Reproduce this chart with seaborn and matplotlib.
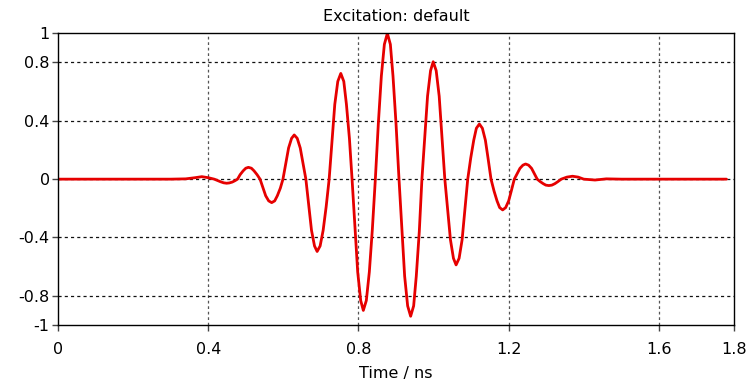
import matplotlib
matplotlib.use("Agg")
import matplotlib.pyplot as plt
import seaborn as sns
import pandas as pd

# Waveform samples (time in ns, amplitude)
time_ns = [0.000, 0.300, 0.340, 0.365, 0.383, 0.400, 0.416, 0.433, 0.441,
           0.449, 0.456, 0.464, 0.471, 0.478, 0.485, 0.493, 0.500,
           0.507, 0.515, 0.522, 0.530, 0.538, 0.546, 0.553, 0.561,
           0.569, 0.577, 0.584, 0.592, 0.599, 0.607, 0.614, 0.622,
           0.629, 0.637, 0.645, 0.652, 0.660, 0.668, 0.675, 0.683,
           0.690, 0.698, 0.706, 0.714, 0.722, 0.730, 0.737, 0.745,
           0.753, 0.761, 0.768, 0.776, 0.783, 0.791, 0.798, 0.806,
           0.813, 0.821, 0.829, 0.837, 0.845, 0.853, 0.861, 0.869,
           0.877, 0.885, 0.892, 0.900, 0.908, 0.916, 0.923, 0.931,
           0.939, 0.947, 0.954, 0.962, 0.969, 0.977, 0.984, 0.992,
           0.999, 1.007, 1.015, 1.022, 1.030, 1.038, 1.045, 1.053,
           1.060, 1.068, 1.076, 1.083, 1.091, 1.099, 1.107, 1.114,
           1.122, 1.130, 1.138, 1.145, 1.153, 1.161, 1.169, 1.176,
           1.184, 1.192, 1.200, 1.207, 1.215, 1.223, 1.230, 1.238,
           1.245, 1.253, 1.261, 1.268, 1.276, 1.284, 1.292, 1.299,
           1.307, 1.315, 1.323, 1.331, 1.340, 1.355, 1.370, 1.385,
           1.400, 1.430, 1.460, 1.500, 1.780]
amplitude = [0.000, 0.000, 0.002, 0.010, 0.017, 0.010, 0.000, -0.018, -0.025,
             -0.028, -0.026, -0.020, -0.011, 0.000, 0.031, 0.057, 0.075,
             0.081, 0.075, 0.057, 0.031, 0.000, -0.062, -0.114, -0.149,
             -0.161, -0.149, -0.114, -0.062, 0.000, 0.116, 0.214, 0.280,
             0.303, 0.280, 0.214, 0.116, 0.000, -0.190, -0.351, -0.458,
             -0.496, -0.458, -0.351, -0.190, 0.000, 0.278, 0.513, 0.670,
             0.725, 0.670, 0.513, 0.278, 0.000, -0.345, -0.636, -0.832,
             -0.900, -0.832, -0.636, -0.345, 0.000, 0.383, 0.707, 0.924,
             1.000, 0.924, 0.707, 0.383, 0.000, -0.360, -0.665, -0.869,
             -0.940, -0.869, -0.665, -0.360, 0.000, 0.308, 0.569, 0.744,
             0.805, 0.744, 0.569, 0.308, 0.000, -0.225, -0.416, -0.543,
             -0.588, -0.543, -0.416, -0.225, 0.000, 0.145, 0.267, 0.349,
             0.378, 0.349, 0.267, 0.145, 0.000, -0.081, -0.149, -0.195,
             -0.211, -0.195, -0.149, -0.081, 0.000, 0.040, 0.074, 0.096,
             0.104, 0.096, 0.074, 0.040, 0.000, -0.017, -0.031, -0.041,
             -0.044, -0.041, -0.031, -0.017, 0.000, 0.014, 0.020, 0.014,
             0.000, -0.006, 0.002, 0.000, 0.000]

x_ticks = [0, 0.4, 0.8, 1.2, 1.6, 1.8]
x_tick_labels = ["0", "0.4", "0.8", "1.2", "1.6", "1.8"]
y_ticks = [-1, -0.8, -0.4, 0, 0.4, 0.8, 1]
y_tick_labels = ["-1", "-0.8", "-0.4", "0", "0.4", "0.8", "1"]
title = "Excitation: default"
x_label = "Time / ns"

df = pd.DataFrame({"t": time_ns, "v": amplitude})

sns.set_theme(style="white")
plt.rcParams["font.family"] = ["DejaVu Sans"]

fig = plt.figure(figsize=(7.48, 3.92), dpi=100)
ax = fig.add_axes([58 / 748, 1 - 325 / 392, (734 - 58) / 748, (325 - 33.3) / 392])

sns.lineplot(data=df, x="t", y="v", ax=ax, color="#e60000", linewidth=2.0, sort=False)

ax.set_xlim(0, 1.8)
ax.set_ylim(-1, 1)
ax.set_xticks(x_ticks)
ax.set_xticklabels(x_tick_labels)
ax.set_yticks(y_ticks)
ax.set_yticklabels(y_tick_labels)

for gx in [0.4, 0.8, 1.2, 1.6]:
    ax.axvline(gx, color="#555555", linewidth=0.9, linestyle=(0, (2.2, 2.2)), zorder=0)
for gy in [-0.8, -0.4, 0, 0.4, 0.8]:
    ax.axhline(gy, color="#111111", linewidth=0.9, linestyle=(0, (2.5, 2.5)), zorder=0)

for s in ax.spines.values():
    s.set_visible(True)
    s.set_color("black")
    s.set_linewidth(1.0)

ax.tick_params(axis="both", which="major", direction="out", length=4, width=1,
               color="#444444", labelsize=11.5, labelcolor="black", pad=2,
               bottom=True, left=True)
ax.tick_params(axis="x", pad=8)

ax.set_xlabel(x_label, fontsize=11.5, labelpad=7, color="black")
ax.set_ylabel("")
ax.set_title(title, fontsize=11.5, pad=9, color="black")

fig.savefig("out.png", dpi=100, facecolor="white")
